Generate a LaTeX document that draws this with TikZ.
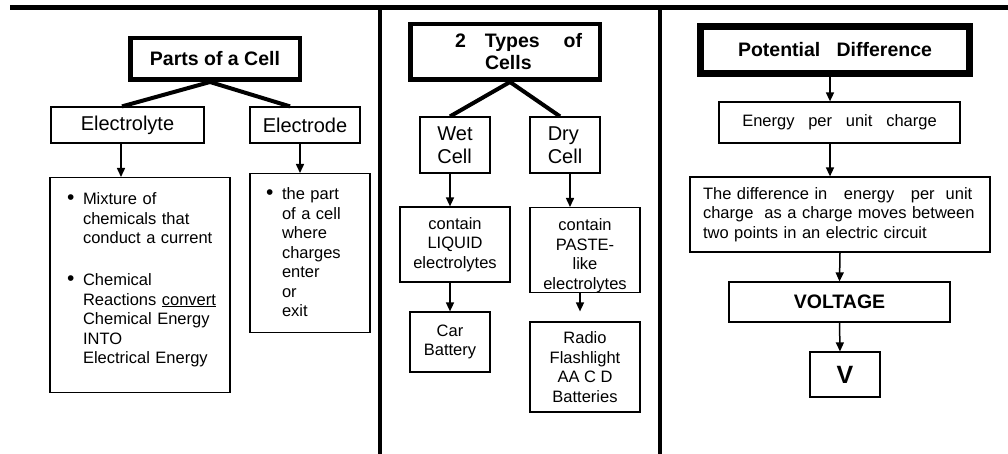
\documentclass[tikz,border=0pt]{standalone}
\usepackage{fontspec}
\setmainfont{Liberation Sans}
\usepackage{tikz}
\usetikzlibrary{arrows.meta,calc}
\usetikzlibrary{positioning}

\newcommand{\corpo}{\fontsize{16.5}{19.5}\selectfont}
\newcommand{\cabeca}{\fontsize{20}{23}\selectfont}
\newcommand{\negrito}{\fontsize{19.5}{22}\selectfont\bfseries}
\newcommand{\marca}{\hspace*{4pt}\makebox[16pt][l]{\fontsize{21}{19.5}\selectfont\textbullet}}
\newcommand{\recuo}{\hspace*{20pt}}

\begin{document}
\begin{tikzpicture}[x=1pt,y=-1pt,
  caixa/.style={draw,line width=1.2pt,inner sep=0pt,align=center,font=\corpo},
  rotulo/.style={caixa,font=\cabeca},
  titulo/.style={draw,line width=4.5pt,inner sep=0pt,align=center,font=\negrito},
  seta/.style={-{Triangle[length=9pt,width=8pt]},line width=1.5pt},
  ramo/.style={line width=4pt},
  moldura/.style={line width=4.5pt}]

\fill[white] (0,0) rectangle (1008,454);
\useasboundingbox (0,0) rectangle (1008,454);

% linhas de divisao
\draw[moldura] (10,7.5) -- (1008,7.5);
\draw[moldura] (380,7.5) -- (380,454);
\draw[moldura] (660,7.5) -- (660,454);

% painel 1: partes de uma pilha
\node[titulo, minimum width=169.5pt, minimum height=41.5pt] (partes) at (215,59) {Parts of a Cell};
\node[rotulo, minimum width=153pt, minimum height=36pt] (electrolito) at (127.5,125) {Electrolyte};
\node[rotulo, minimum width=110pt, minimum height=36pt] (electrodo) at (305,125) {Electrode};

\node[caixa, anchor=north, text width=154pt, inner xsep=13pt, text height=27pt,
      text depth=188pt, align=left] (mistura) at (140,177)
  {\marca Mixture of\\\recuo chemicals that\\\recuo conduct a current\\[22.5pt]
   \marca Chemical\\\recuo Reactions \underline{convert}\\\recuo Chemical Energy\\
   \recuo INTO\\\recuo Electrical Energy};
\node[caixa, anchor=north, text width=96pt, inner xsep=12pt, text height=26pt,
      text depth=133pt, align=left] (entrada) at (310,173)
  {\marca the part\\\recuo of a cell\\\recuo where\\\recuo charges\\\recuo enter\\\recuo or\\\recuo exit};

\draw[ramo] ([xshift=-5pt]partes.south) -- ([xshift=-5.5pt]electrolito.north);
\draw[ramo] ([xshift=-5pt]partes.south) -- ([xshift=-15pt]electrodo.north);
\draw[seta] ([xshift=-6.5pt]electrolito.south) -- ([xshift=-19pt]mistura.north);
\draw[seta] ([xshift=-5pt]electrodo.south) -- ([xshift=-10pt]entrada.north);

% painel 2: tipos de pilha
\node[titulo, text width=189.5pt, minimum height=55.5pt, align=left] (tipos) at (505,52)
  {\hspace*{44.75pt}2\hspace{19pt}Types\hspace{24pt}of\\\hspace*{74.75pt}Cells};
\node[rotulo, minimum width=70pt, minimum height=56pt, align=left] (molhada) at (455,145) {Wet\\Cell};
\node[rotulo, minimum width=70pt, minimum height=56pt, align=left] (seca) at (565,145) {Dry\\Cell};

\node[caixa, minimum width=110pt, minimum height=75pt] (liquido) at (455,244.5)
  {contain\\LIQUID\\electrolytes};
\node[caixa, anchor=north, text width=110pt, text height=23pt, text depth=62pt] (pasta) at (585,207)
  {contain\\PASTE-\\like\\electrolytes};
\node[caixa, minimum width=80pt, minimum height=60pt] (carro) at (450,342) {Car\\Battery};
\node[caixa, minimum width=110pt, minimum height=90pt] (radio) at (585,367)
  {Radio\\Flashlight\\AA C D\\Batteries};

\draw[ramo] ([xshift=5pt]tipos.south) -- ([xshift=-5pt]molhada.north);
\draw[ramo] ([xshift=5pt]tipos.south) -- ([xshift=-5pt]seca.north);
\draw[seta] ([xshift=-5pt]molhada.south) -- ([xshift=-5pt]liquido.north);
\draw[seta] ([xshift=5pt]seca.south) -- ([xshift=-15pt]pasta.north);
\draw[seta] ([xshift=-5pt]liquido.south) -- (carro.north);
\draw[seta] ([xshift=-5pt]pasta.south) -- ([xshift=-5pt,yshift=10pt]radio.north);

% painel 3: diferenca de potencial
\node[titulo, line width=7pt, minimum width=269pt, minimum height=47pt] (potencial) at (835,50)
  {Potential\ \ \ Difference};
\node[caixa, minimum width=241pt, minimum height=41pt] (energia) at (839.5,122.5)
  {Energy\ \ \ per\ \ \ unit\ \ \ charge};
\node[caixa, text width=274pt, inner xsep=13pt, minimum height=75pt, align=left] (definicao) at (840,214.5)
  {The difference in\ \ \ energy\ \ \ per\ \ unit\\charge\ \ as a charge moves between\\two points in an electric circuit};
\node[caixa, font=\negrito, minimum width=221pt, minimum height=40pt] (tensao) at (839.5,302) {VOLTAGE};
\node[caixa, font=\fontsize{25}{28}\selectfont\bfseries, minimum width=70pt, minimum height=45pt] (volt) at (845,374.5) {V};

\draw[seta] ([xshift=-5pt]potencial.south) -- ([xshift=-9.5pt]energia.north);
\draw[seta] ([xshift=-9.5pt]energia.south) -- ([xshift=-10pt]definicao.north);
\draw[seta] (definicao.south) -- (tensao.north);
\draw[seta] (tensao.south) -- ([xshift=-5pt]volt.north);

\end{tikzpicture}
\end{document}
